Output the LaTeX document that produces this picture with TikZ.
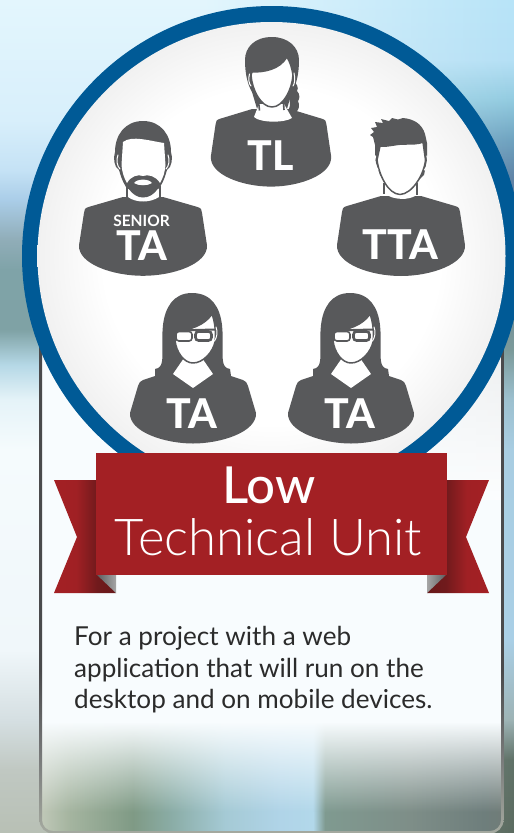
\documentclass[tikz,border=0pt]{standalone}
\usepackage{fontspec}
\setmainfont{Lato}
\newfontfamily\lightlato{Lato Light}
\newfontfamily\mediumlato{Lato Medium}
\newfontfamily\heavylato{Lato Heavy}
\usetikzlibrary{fadings}
\definecolor{ink}{HTML}{58595B}
\definecolor{ringblue}{HTML}{005A96}
\definecolor{bannerred}{HTML}{A32024}
\definecolor{bodytext}{HTML}{2B2B2B}
\definecolor{cardwhite}{HTML}{F8FCFE}
\newcommand{\dc}[4]{\definecolor{#1}{RGB}{#2,#3,#4}}
\dc{la}{184}{192}{181}\dc{lb}{192}{200}{194}\dc{lc}{213}{223}{226}\dc{ld}{240}{247}{250}\dc{le}{245}{251}{253}\dc{lf}{229}{243}{248}\dc{lg}{181}{216}{230}\dc{lh}{127}{162}{165}\dc{li}{127}{163}{168}\dc{lj}{144}{173}{184}\dc{lk}{170}{205}{232}\dc{ll}{197}{226}{245}\dc{lm}{216}{239}{251}\dc{ln}{227}{246}{253}
\dc{ra}{91}{107}{96}\dc{rb}{96}{114}{104}\dc{rc}{157}{179}{181}\dc{rd}{169}{207}{230}\dc{re}{168}{205}{226}\dc{rf}{156}{192}{207}\dc{rg}{123}{154}{154}\dc{rh}{112}{133}{154}\dc{ri}{95}{130}{165}\dc{rj}{111}{163}{192}\dc{rk}{146}{203}{224}\dc{rl}{181}{224}{245}\dc{rm}{184}{228}{248}
\dc{ca}{192}{200}{184}\dc{cb}{165}{181}{160}\dc{cc}{127}{154}{133}\dc{cd}{138}{172}{165}\dc{ce}{165}{202}{213}\dc{cf}{176}{212}{232}\dc{cg}{178}{216}{234}\dc{ch}{127}{154}{144}\dc{ci}{126}{142}{136}\dc{cj}{110}{126}{124}\dc{ck}{112}{124}{120}
\dc{kla}{165}{170}{160}\dc{klb}{120}{122}{122}\dc{klc}{74}{74}{76}
\dc{discedge}{241}{241}{241}
\dc{ta}{163}{32}{36}\dc{tb}{160}{32}{36}\dc{tc}{112}{26}{28}\dc{td}{104}{24}{26}
\pgfdeclareverticalshading{bgleft}{100bp}{color(0bp)=(la); color(25bp)=(la); color(28.8bp)=(lb); color(31.8bp)=(lc); color(36bp)=(ld); color(48bp)=(le); color(51bp)=(lf); color(53.1bp)=(lg); color(55.2bp)=(lh); color(58.8bp)=(li); color(60.6bp)=(lj); color(63bp)=(lk); color(64.8bp)=(ll); color(67.8bp)=(lm); color(75bp)=(ln); color(100bp)=(ln)}
\pgfdeclareverticalshading{bgright}{100bp}{color(0bp)=(ra); color(25bp)=(ra); color(29.4bp)=(rb); color(31.8bp)=(rc); color(36.6bp)=(rd); color(48bp)=(re); color(51bp)=(rf); color(54bp)=(rg); color(60bp)=(rh); color(64.2bp)=(ri); color(66.6bp)=(rj); color(69bp)=(rk); color(71.4bp)=(rl); color(75bp)=(rm); color(100bp)=(rm)}
\pgfdeclarehorizontalshading{cardbottom}{100bp}{color(0bp)=(ca); color(25bp)=(ca); color(28bp)=(cb); color(35bp)=(cc); color(39bp)=(cd); color(45bp)=(ce); color(51bp)=(cf); color(54.5bp)=(cg); color(55.8bp)=(ch); color(65bp)=(ci); color(73bp)=(cj); color(75bp)=(ck); color(100bp)=(ck)}
\pgfdeclareverticalshading{cardline}{100bp}{color(0bp)=(kla); color(25bp)=(kla); color(32bp)=(klb); color(40bp)=(klc); color(75bp)=(klc); color(100bp)=(klc)}
\pgfdeclareradialshading{discglow}{\pgfpoint{0bp}{0bp}}{color(0bp)=(white); color(18bp)=(white); color(25bp)=(discedge); color(50bp)=(discedge)}
\pgfdeclarehorizontalshading{tailleft}{100bp}{color(0bp)=(ta); color(25bp)=(ta); color(43bp)=(tb); color(60bp)=(tc); color(75bp)=(td); color(100bp)=(td)}
\pgfdeclarehorizontalshading{tailright}{100bp}{color(0bp)=(td); color(25bp)=(td); color(40bp)=(tc); color(57bp)=(tb); color(75bp)=(ta); color(100bp)=(ta)}
\tikzfading[name=riseright, left color=transparent!100, right color=transparent!0]
\tikzfading[name=riseup, top color=transparent!100, bottom color=transparent!0]
\tikzset{
 x=1pt,y=-1pt,
 facefill/.style={fill=white,draw=ink,line width=1.5pt,line join=round},
 whiteline/.style={draw=white,line width=1pt,line cap=round},
 neckline/.style={draw=ink,line width=1.6pt},
 badge/.style={text=white,font=\heavylato\fontsize{41}{41}\selectfont,anchor=base,inner sep=0pt},
 seniortag/.style={text=white,font=\bfseries\fontsize{15.5}{15.5}\selectfont,anchor=base,inner sep=0pt},
 blurb/.style={text=bodytext,font=\fontsize{26.1}{31.5}\selectfont,anchor=base west,inner sep=0pt},
}
% generic shoulders, origin at the middle of the neck base
\newcommand{\shoulders}{
 \fill[ink] (-20,0) -- (-54,10) .. controls (-58,11) and (-59,13) .. (-59,16)
   -- (-64,49) .. controls (-65,68) and (-30,80) .. (0,80)
   .. controls (30,80) and (65,68) .. (64,49)
   -- (59,16) .. controls (59,13) and (58,11) .. (54,10) -- (20,0) -- cycle;}
% woman with glasses
\newcommand{\glasseswoman}{
 \fill[ink] (192,293) .. controls (173,293) and (165,308) .. (163,325)
   .. controls (161,345) and (164,358) .. (161,365) .. controls (159,368) and (157,369) .. (155,369)
   -- (155,376) -- (143,380) .. controls (140,381) and (139,383) .. (138,386)
   -- (130,413) .. controls (129,432) and (165,443.5) .. (193,443.5)
   .. controls (221,443.5) and (257,432) .. (256,413)
   -- (248,386) .. controls (247,383) and (246,381) .. (243,380)
   -- (231,376) -- (230,369) .. controls (228,369) and (226,368) .. (224,365)
   .. controls (221,358) and (224,345) .. (222,325)
   .. controls (220,308) and (212,293) .. (192,293) -- cycle;
 \fill[white] (173,374) -- (184,358) -- (202,358) -- (213,374) -- (193,388) -- cycle;
 \path[facefill] (175,332) .. controls (190,330) and (205,325) .. (212,314)
   .. controls (215,322) and (216,332) .. (215,342)
   .. controls (213,352) and (203,363) .. (193,363)
   .. controls (184,363) and (176,352) .. (175,340) -- cycle;
 \draw[ink,line width=1.6pt,fill=white,rounded corners=3pt] (176,331.5) rectangle (192,341);
 \draw[ink,line width=2.6pt,fill=white,rounded corners=3pt] (195.5,331.5) rectangle (211.5,340.5);
 \draw[ink,line width=2pt] (175,330.5) -- (215,329.5);
 \draw[whiteline] (216,327) .. controls (218,332) and (217,337) .. (214.5,341);
}
\begin{document}
\begin{tikzpicture}
\useasboundingbox (0,0) rectangle (514,833);
\clip (0,0) rectangle (514,833);

% blurred backdrop
\path[shading=bgleft] (0,0) rectangle (514,833);
\path[shading=bgright,path fading=riseright] (200,0) rectangle (514,833);

% card
\begin{scope}
 \clip (41,300) -- (41,820) arc[start angle=180,end angle=90,radius=12] -- (490,832) arc[start angle=90,end angle=0,radius=12] -- (502,300) -- cycle;
 \fill[cardwhite] (41,300) rectangle (502,833);
 \path[top color=black!10!white,bottom color=white,path fading=riseright,opacity=.6] (340,340) rectangle (502,500);
 \path[shading=cardbottom,path fading=riseup] (41,722) rectangle (502,812);
 \path[shading=cardbottom] (41,812) rectangle (502,833);
\end{scope}
\path[shading=cardline,even odd rule]
  (39.5,290) -- (39.5,820) arc[start angle=180,end angle=90,radius=13.5] -- (490,833.5) arc[start angle=90,end angle=0,radius=13.5] -- (503.5,290) -- cycle
  (42,290) -- (42,820) arc[start angle=180,end angle=90,radius=11] -- (490,831) arc[start angle=90,end angle=0,radius=11] -- (501,290) -- cycle;

% disc
\fill[ringblue] (272,256) circle[radius=250];
\path[shading=discglow] (271.5,256) circle[radius=234];

% TL
\begin{scope}
 \fill[ink] (272,37) .. controls (255,37) and (245,47) .. (245,60)
   .. controls (245,75) and (248,85) .. (252,92) -- (258,112) -- (286,112) -- (292,92)
   .. controls (296,85) and (299,75) .. (299,60) .. controls (299,47) and (288,37) .. (272,37) -- cycle;
 % braid
 \fill[ink] (293,80) .. controls (297,84) and (299,88) .. (297,91)
   .. controls (300,94) and (300,99) .. (298,101) .. controls (300,105) and (299,110) .. (296,112)
   -- (289,118) -- (284,114) .. controls (288,112) and (290,108) .. (290,104)
   .. controls (289,98) and (289,90) .. (291,84) -- cycle;
 \begin{scope}[shift={(271,109)},xscale=.94,yscale=.97] \shoulders \end{scope}
 \fill[white] (254,117) -- (259,104) -- (284,104) -- (292,118) .. controls (285,123) and (260,123) .. (254,117) -- cycle;
 \draw[neckline] (258.5,101) -- (259.5,110.5);
 \draw[neckline] (283.5,103) -- (284,110);
 \path[facefill] (252,72) .. controls (264,72) and (279,70) .. (287,57)
   .. controls (290,62) and (292,68) .. (293,75)
   .. controls (292,90) and (283,107) .. (272,107)
   .. controls (261,107) and (252,90) .. (251,75) -- cycle;
 \draw[whiteline] (249.5,74) .. controls (248,79) and (249,84) .. (251,86);
 \draw[whiteline] (294,73) .. controls (295.5,79) and (294.5,84) .. (293,86);
 \node[badge] (tl) at (270.5,170) {TL};
\end{scope}

% Senior TA
\begin{scope}
 \fill[ink] (143,121) .. controls (125,121) and (115,135) .. (115,152)
   .. controls (113,158) and (114,167) .. (119,170)
   .. controls (122,180) and (126,195) .. (143,197)
   .. controls (160,195) and (164,180) .. (167,170)
   .. controls (172,167) and (173,158) .. (171,152)
   .. controls (171,135) and (161,121) .. (143,121) -- cycle;
 \begin{scope}[shift={(143,197)},yscale=.985] \shoulders \end{scope}
 \fill[white] (128,189) -- (128,197) .. controls (136,203) and (150,203) .. (159,197) -- (159,189) -- cycle;
 \draw[neckline] (127,186) -- (127,197.5);
 \draw[neckline] (160,186) -- (160,197.5);
 \fill[ink] (122,170) .. controls (124,185) and (132,197.5) .. (143,197.5) .. controls (155,197.5) and (162,185) .. (165,170) -- cycle;
 \fill[white] (123,142) .. controls (132,135) and (150,141) .. (164,143)
   -- (165.5,165) .. controls (165,172) and (163,178) .. (160,183)
   .. controls (156,176) and (148,174) .. (143,176)
   .. controls (138,174) and (131,176) .. (127,183)
   .. controls (124,178) and (122,172) .. (121.5,165) -- cycle;
 \fill[white] (134,183) .. controls (137,178.5) and (149,178.5) .. (152,183)
   .. controls (148,186) and (138,186) .. (134,183) -- cycle;
 \draw[whiteline] (118,155) .. controls (116,160) and (117,166) .. (120,169);
 \draw[whiteline] (168,155) .. controls (170,160) and (169,166) .. (166,169);
 \node[seniortag] (sr) at (141.5,226) {SENIOR};
 \node[badge] (ta1) at (142,260) {TA};
\end{scope}

% TTA
\begin{scope}
 \fill[ink] (375,160) -- (375,145) -- (373,137) -- (370,135) -- (374,132) -- (371,128) -- (377,127) -- (375,122)
   -- (383,123) -- (381,119) -- (389,121) -- (392,118) -- (398,119.5) -- (403,118) .. controls (414,119) and (422,124) .. (425,134)
   -- (427,143) -- (427,160) -- (424,175) -- (400,198) -- (380,175) -- cycle;
 \begin{scope}[shift={(401,196)},yscale=1] \shoulders \end{scope}
 \fill[white] (385,190) -- (385,193.5) .. controls (392,200) and (410,201) .. (417,194.5) -- (417,190) -- cycle;
 \draw[neckline] (384,183) -- (384,194);
 \draw[neckline] (417,183) -- (417,194.5);
 \path[facefill] (380,146) .. controls (388,147) and (395,144) .. (404,144)
   .. controls (412,144) and (419,144) .. (423,142)
   -- (425.5,160) .. controls (424,175) and (412,194) .. (400,194.5)
   .. controls (388,194) and (379,175) .. (377,160) -- cycle;
 \draw[whiteline,line width=1.2pt] (375.5,156) .. controls (374,161) and (375,167) .. (378,170);
 \draw[whiteline,line width=1.2pt] (427,156) .. controls (428.5,161) and (427.5,167) .. (424.5,170);
 \node[badge] (tta) at (400.5,259) {TTA};
\end{scope}

% two TAs
\begin{scope} \glasseswoman \node[badge] (ta2) at (192,428) {TA}; \end{scope}
\begin{scope}[xshift=158pt] \glasseswoman \node[badge] (ta3) at (192,428) {TA}; \end{scope}

% banner tails
\path[shading=tailleft] (54,480) -- (110,480) -- (110,575) -- (116,593) -- (54,593) -- (77,537) -- cycle;
\path[shading=tailright] (489,480) -- (433,480) -- (433,575) -- (427,593) -- (489,593) -- (466,537) -- cycle;
\path[left color=ink,right color=black!35!white] (96,574) -- (116,574) -- (116,593) -- cycle;
\path[right color=ink,left color=black!35!white] (447,574) -- (427,574) -- (427,593) -- cycle;
% banner
\fill[bannerred] (96,453) rectangle (447,575);
\node[text=white,font=\mediumlato\fontsize{51}{51}\selectfont,anchor=base,inner sep=0pt] (low) at (269,503) {Low};
\node[text=white,font=\lightlato\fontsize{50.8}{51}\selectfont,anchor=base,inner sep=0pt] (unit) at (268.5,555) {Technical Unit};

% description
\node[blurb] (d1) at (74,645) {For a project with a web};
\node[blurb] (d2) at (74,677) {application that will run on the};
\node[blurb] (d3) at (74,708) {desktop and on mobile devices.};
\end{tikzpicture}
\end{document}
